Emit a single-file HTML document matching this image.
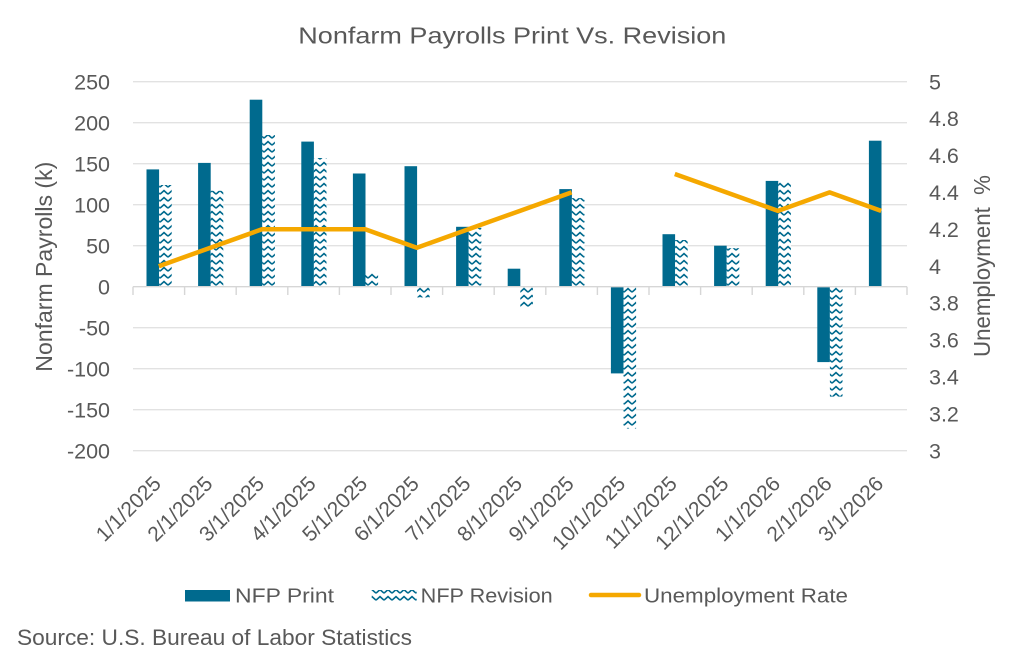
<!DOCTYPE html>
<html><head><meta charset="utf-8"><style>
html,body{margin:0;padding:0;background:#fff;}
svg{display:block;}
text{font-family:"Liberation Sans",sans-serif;fill:#595959;}
</style></head><body>
<svg width="1024" height="660" viewBox="0 0 1024 660" xmlns="http://www.w3.org/2000/svg">
<defs>
<pattern id="wave" patternUnits="userSpaceOnUse" width="8" height="7">
<rect width="8" height="7" fill="#fff"/>
<path d="M0,5.2 L4,1.6 L8,5.2" fill="none" stroke="#006A8E" stroke-width="1.6"/>
</pattern>
</defs>
<rect width="1024" height="660" fill="#fff"/>
<text x="298.3" y="43.3" font-size="23" textLength="428" lengthAdjust="spacingAndGlyphs">Nonfarm Payrolls Print Vs. Revision</text>

<!-- gridlines -->
<g stroke="#e2e2e2" stroke-width="1.4">
<line x1="133" y1="81.7" x2="907" y2="81.7"/>
<line x1="133" y1="122.7" x2="907" y2="122.7"/>
<line x1="133" y1="163.7" x2="907" y2="163.7"/>
<line x1="133" y1="204.7" x2="907" y2="204.7"/>
<line x1="133" y1="245.7" x2="907" y2="245.7"/>
<line x1="133" y1="327.7" x2="907" y2="327.7"/>
<line x1="133" y1="368.7" x2="907" y2="368.7"/>
<line x1="133" y1="409.7" x2="907" y2="409.7"/>
<line x1="133" y1="450.7" x2="907" y2="450.7"/>
</g>

<!-- print bars -->
<g fill="#006A8E">
<rect x="146.5" y="169.4" width="12.6" height="117.3"/>
<rect x="198.1" y="162.9" width="12.6" height="123.8"/>
<rect x="249.7" y="99.7" width="12.6" height="187"/>
<rect x="301.3" y="141.6" width="12.6" height="145.1"/>
<rect x="352.9" y="173.5" width="12.6" height="113.2"/>
<rect x="404.5" y="166.2" width="12.6" height="120.5"/>
<rect x="456.1" y="226.8" width="12.6" height="59.9"/>
<rect x="507.7" y="268.7" width="12.6" height="18"/>
<rect x="559.3" y="189.1" width="12.6" height="97.6"/>
<rect x="610.9" y="286.7" width="12.6" height="86.7"/>
<rect x="662.5" y="234.2" width="12.6" height="52.5"/>
<rect x="714.1" y="245.7" width="12.6" height="41"/>
<rect x="765.7" y="180.9" width="12.6" height="105.8"/>
<rect x="817.3" y="286.7" width="12.6" height="75.4"/>
<rect x="868.9" y="140.7" width="12.6" height="146"/>
</g>
<!-- revision bars -->
<g fill="url(#wave)">
<rect x="159.1" y="185" width="12.6" height="101.7"/>
<rect x="210.7" y="190.8" width="12.6" height="95.9"/>
<rect x="262.3" y="135" width="12.6" height="151.7"/>
<rect x="313.9" y="158" width="12.6" height="128.7"/>
<rect x="365.5" y="271.9" width="12.6" height="14.8"/>
<rect x="417.1" y="286.7" width="12.6" height="10.7"/>
<rect x="468.7" y="227.7" width="12.6" height="59"/>
<rect x="520.3" y="286.7" width="12.6" height="21.3"/>
<rect x="571.9" y="198.1" width="12.6" height="88.6"/>
<rect x="623.5" y="286.7" width="12.6" height="141.9"/>
<rect x="675.1" y="240" width="12.6" height="46.7"/>
<rect x="726.7" y="248.2" width="12.6" height="38.5"/>
<rect x="778.3" y="181.7" width="12.6" height="105"/>
<rect x="829.9" y="286.7" width="12.6" height="109.9"/>
</g>

<!-- axis line and ticks -->
<g stroke="#d6d6d6" stroke-width="1.4">
<line x1="133" y1="286.7" x2="907" y2="286.7"/>
<line x1="133" y1="286.7" x2="133" y2="295"/>
<line x1="184.6" y1="286.7" x2="184.6" y2="295"/>
<line x1="236.2" y1="286.7" x2="236.2" y2="295"/>
<line x1="287.8" y1="286.7" x2="287.8" y2="295"/>
<line x1="339.4" y1="286.7" x2="339.4" y2="295"/>
<line x1="391" y1="286.7" x2="391" y2="295"/>
<line x1="442.6" y1="286.7" x2="442.6" y2="295"/>
<line x1="494.2" y1="286.7" x2="494.2" y2="295"/>
<line x1="545.8" y1="286.7" x2="545.8" y2="295"/>
<line x1="597.4" y1="286.7" x2="597.4" y2="295"/>
<line x1="649" y1="286.7" x2="649" y2="295"/>
<line x1="700.6" y1="286.7" x2="700.6" y2="295"/>
<line x1="752.2" y1="286.7" x2="752.2" y2="295"/>
<line x1="803.8" y1="286.7" x2="803.8" y2="295"/>
<line x1="855.4" y1="286.7" x2="855.4" y2="295"/>
<line x1="907" y1="286.7" x2="907" y2="295"/>
</g>

<!-- unemployment line -->
<g fill="none" stroke="#F5A800" stroke-width="4.5" stroke-linejoin="round" stroke-linecap="butt">
<polyline points="158.8,266.2 210.4,247.75 262,229.3 313.6,229.3 365.2,229.3 416.8,247.75 468.4,229.3 520,210.85 571.6,192.4"/>
<polyline points="674.8,173.95 726.4,192.4 778,210.85 829.6,192.4 881.2,210.85"/>
</g>

<!-- left ticks -->
<g font-size="21.5" text-anchor="end">
<text x="110" y="89.3">250</text>
<text x="110" y="130.3">200</text>
<text x="110" y="171.3">150</text>
<text x="110" y="212.3">100</text>
<text x="110" y="253.3">50</text>
<text x="110" y="294.3">0</text>
<text x="110" y="335.3">-50</text>
<text x="110" y="376.3">-100</text>
<text x="110" y="417.3">-150</text>
<text x="110" y="458.3">-200</text>
</g>
<!-- right ticks -->
<g font-size="21.5">
<text x="929" y="89.3">5</text>
<text x="929" y="126.2">4.8</text>
<text x="929" y="163.1">4.6</text>
<text x="929" y="200">4.4</text>
<text x="929" y="236.9">4.2</text>
<text x="929" y="273.8">4</text>
<text x="929" y="310.7">3.8</text>
<text x="929" y="347.6">3.6</text>
<text x="929" y="384.5">3.4</text>
<text x="929" y="421.4">3.2</text>
<text x="929" y="458.3">3</text>
</g>

<!-- axis titles -->
<text transform="translate(52,371.7) rotate(-90)" font-size="23" textLength="210" lengthAdjust="spacingAndGlyphs">Nonfarm Payrolls (k)</text>
<text transform="translate(990,357) rotate(-90)" font-size="23" textLength="182" lengthAdjust="spacingAndGlyphs" xml:space="preserve">Unemployment  %</text>

<!-- x labels -->
<g font-size="21" text-anchor="end">
<text transform="translate(162.3,485) rotate(-45)">1/1/2025</text>
<text transform="translate(213.9,485) rotate(-45)">2/1/2025</text>
<text transform="translate(265.5,485) rotate(-45)">3/1/2025</text>
<text transform="translate(317.1,485) rotate(-45)">4/1/2025</text>
<text transform="translate(368.7,485) rotate(-45)">5/1/2025</text>
<text transform="translate(420.3,485) rotate(-45)">6/1/2025</text>
<text transform="translate(471.9,485) rotate(-45)">7/1/2025</text>
<text transform="translate(523.5,485) rotate(-45)">8/1/2025</text>
<text transform="translate(575.1,485) rotate(-45)">9/1/2025</text>
<text transform="translate(626.7,485) rotate(-45)">10/1/2025</text>
<text transform="translate(678.3,485) rotate(-45)">11/1/2025</text>
<text transform="translate(729.9,485) rotate(-45)">12/1/2025</text>
<text transform="translate(781.5,485) rotate(-45)">1/1/2026</text>
<text transform="translate(833.1,485) rotate(-45)">2/1/2026</text>
<text transform="translate(884.7,485) rotate(-45)">3/1/2026</text>
</g>

<!-- legend -->
<rect x="185" y="590" width="45" height="11.5" fill="#006A8E"/>
<text x="235" y="602.3" font-size="20" textLength="99" lengthAdjust="spacingAndGlyphs">NFP Print</text>
<rect x="371.7" y="590" width="45" height="11.5" fill="url(#wave)"/>
<text x="420.7" y="602.3" font-size="20" textLength="132" lengthAdjust="spacingAndGlyphs">NFP Revision</text>
<line x1="591" y1="595" x2="639" y2="595" stroke="#F5A800" stroke-width="4.5" stroke-linecap="round"/>
<text x="644" y="602.3" font-size="20" textLength="204" lengthAdjust="spacingAndGlyphs">Unemployment Rate</text>

<!-- source -->
<text x="17" y="645" font-size="22.5" textLength="395" lengthAdjust="spacingAndGlyphs">Source: U.S. Bureau of Labor Statistics</text>
</svg>
</body></html>
